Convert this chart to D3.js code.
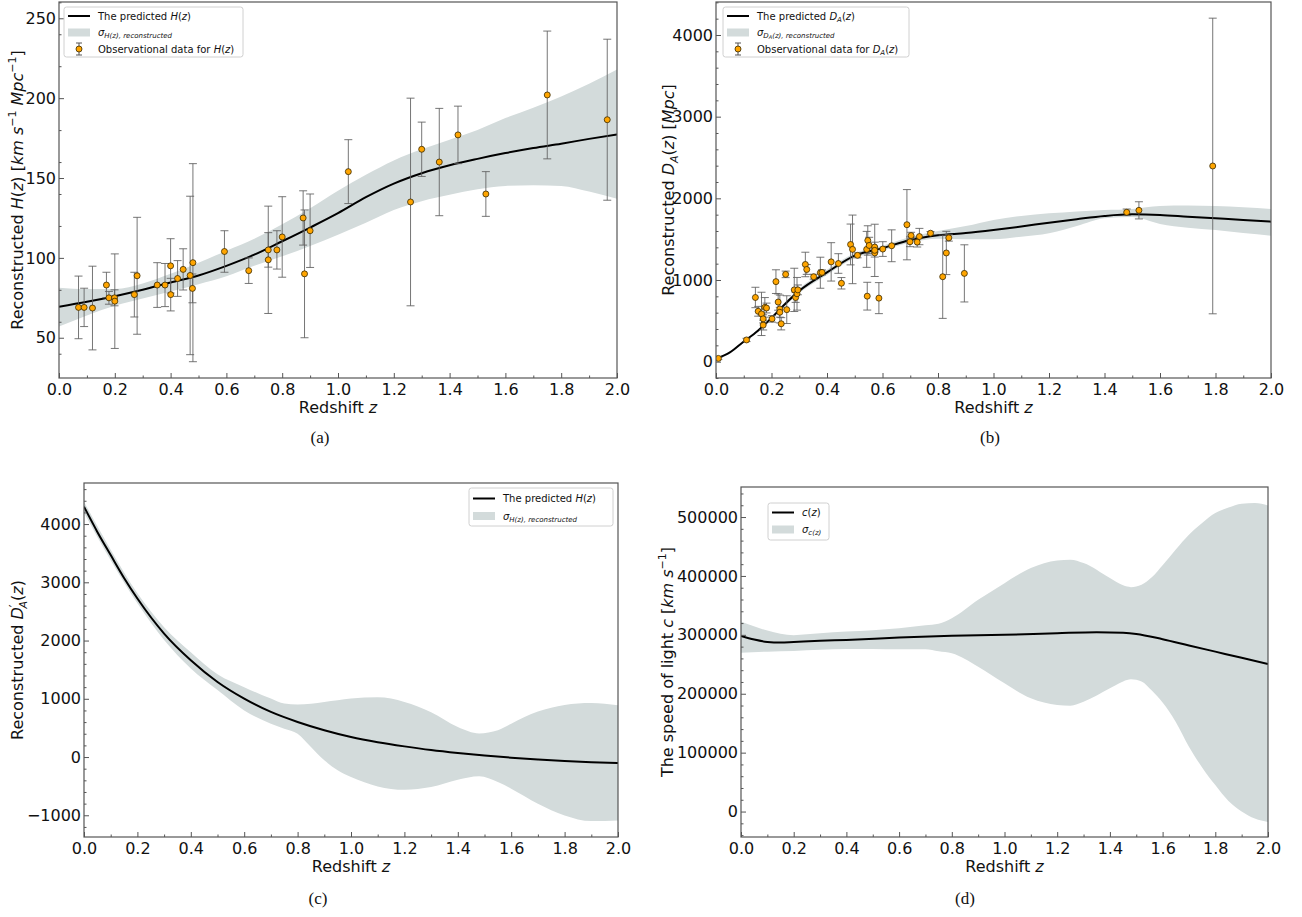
<!DOCTYPE html>
<html><head><meta charset="utf-8">
<script src="https://cdn.jsdelivr.net/npm/d3@7"></script>
<style>body{margin:0;background:#fff} svg text{font-family:"DejaVu Sans",sans-serif;fill:#111}</style>
</head><body>
<svg id="fig" width="1302" height="917"></svg>
<script>
// ---------- Panel (a): H(z) ----------
const aObsZ   = [0.07,0.09,0.12,0.17,0.179,0.199,0.2,0.27,0.28,0.352,0.38,0.4,0.4004,0.425,0.445,0.47,0.4783,0.48,0.593,0.68,0.75,0.75,0.781,0.8,0.875,0.88,0.9,1.037,1.26,1.3,1.363,1.43,1.53,1.75,1.965];
const aObsH   = [69,69,68.6,83,75,75,72.9,77,88.8,83,83,95,77,87.1,92.8,89,80.9,97,104,92,98.8,105,105,113.1,125,90,117,154,135,168,160,177,140,202,186.5];
const aObsErr = [19.6,12,26.2,8,4,5,29.6,14,36.6,14,13.5,17,10.2,11.2,12.9,49.6,9,62,13,8,33.6,10.8,12,25.2,17,40,23,20,65,17,33.6,18,14,40,50.4];
const aCurveZ = [0,0.1,0.2,0.3,0.4,0.5,0.6,0.7,0.8,0.9,1.0,1.1,1.2,1.3,1.4,1.5,1.6,1.7,1.8,1.9,2.0];
const aCurve  = [69.4,72.5,76,80,84.6,89,95,102,110.4,119,128,138,146.5,153,158,162,165.6,168.8,171.5,174.5,177.3];
const aBandZ  = [0,0.1,0.2,0.3,0.4,0.5,0.6,0.7,0.8,0.9,1.0,1.1,1.2,1.3,1.4,1.5,1.6,1.7,1.8,1.9,2.0];
const aBandHi = [81.3,80.5,80.5,84,90,97,104.5,112,121,131,142,152,161,168,174,180,187.5,194,201,209,218];
const aBandLo = [57,64,70,74.5,79,83.5,88.5,95,101,107.5,114.5,122,130,135.5,139.5,143,145,145.5,145,141.5,137];

// ---------- Panel (b): D_A(z) ----------
const bObsZ   = [0.0085,0.11,0.142,0.152,0.164,0.17,0.17,0.176,0.182,0.202,0.216,0.224,0.23,0.23,0.235,0.251,0.255,0.282,0.287,0.292,0.295,0.322,0.327,0.352,0.376,0.382,0.415,0.441,0.452,0.485,0.492,0.51,0.543,0.547,0.545,0.552,0.572,0.572,0.572,0.587,0.601,0.633,0.688,0.699,0.703,0.725,0.733,0.773,0.817,0.83,0.839,0.895,1.48,1.524,1.79];
const bObsDA  = [40,266,786,617,585,448,524,665,657,524,980,730,645,605,464,1069,637,879,786,831,879,1190,1129,1040,1089,1093,1222,1202,960,1435,1375,1302,1375,1484,802,1423,1403,1331,1363,778,1379,1419,1677,1468,1544,1464,1532,1573,1040,1331,1516,1081,1829,1853,2396];
const bObsErr = [15,20,125,60,265,60,50,120,60,40,145,100,170,60,75,40,170,265,60,200,60,150,60,30,190,30,235,120,70,250,420,30,220,180,170,100,60,50,320,190,90,195,430,60,40,60,100,20,510,265,40,350,40,105,1810];
const bCurveZ = [0,0.05,0.1,0.15,0.2,0.25,0.3,0.4,0.5,0.6,0.7,0.8,0.9,1.0,1.1,1.2,1.3,1.4,1.5,1.6,1.7,1.8,1.9,2.0];
const bCurve  = [35,113,246,375,536,710,867,1093,1298,1390,1490,1548,1575,1612,1655,1702,1745,1784,1804,1796,1775,1755,1735,1714];
const bBandHi = [45,123,256,390,556,735,895,1125,1330,1420,1525,1600,1660,1735,1785,1816,1840,1857,1870,1906,1912,1906,1890,1869];
const bBandLo = [25,103,236,360,516,685,840,1062,1268,1360,1458,1505,1500,1498,1530,1571,1660,1755,1770,1686,1640,1612,1575,1543];

// ---------- Panel (c): D'_A(z) ----------
const cCurveZ = [0,0.05,0.1,0.15,0.2,0.3,0.4,0.5,0.6,0.7,0.8,0.9,1.0,1.1,1.2,1.3,1.4,1.5,1.6,1.7,1.8,1.9,2.0];
const cCurve  = [4298,3865,3467,3075,2722,2120,1662,1289,1003,774,602,460,344,255,183,120,69,25,-11,-42,-69,-88,-103];
const cBandZ  = [0,0.1,0.2,0.3,0.4,0.5,0.6,0.7,0.75,0.8,0.85,0.9,0.95,1.0,1.1,1.2,1.3,1.4,1.48,1.55,1.6,1.7,1.8,1.9,2.0];
const cBandHi = [4384,3560,2810,2230,1800,1420,1200,1003,917,900,915,946,975,1003,1025,946,770,516,405,458,573,780,895,928,888];
const cBandLo = [4195,3380,2640,2010,1520,1150,800,573,487,401,172,-57,-229,-344,-504,-562,-516,-390,-332,-430,-544,-802,-1003,-1100,-1089];

// ---------- Panel (d): c(z) ----------
const dCurveZ = [0,0.05,0.1,0.15,0.2,0.3,0.4,0.6,0.8,1.0,1.2,1.35,1.45,1.5,1.6,1.7,1.8,1.9,2.0];
const dCurve  = [298300,292000,288000,287000,288000,290000,291400,295400,298300,300000,302800,304500,303500,301600,292600,282000,271500,261000,250600];
const dBandZ  = [0,0.1,0.2,0.3,0.4,0.5,0.6,0.7,0.75,0.8,0.9,1.0,1.1,1.2,1.25,1.3,1.4,1.45,1.48,1.52,1.56,1.6,1.65,1.7,1.75,1.8,1.85,1.9,1.95,2.0];
const dBandHi = [322600,307300,299500,302500,305500,308000,311200,316300,319000,328200,359400,387800,413300,426400,427500,421800,396300,384000,381000,385000,398000,418000,445000,470000,490000,506800,516000,522700,523800,519800];
const dBandLo = [269800,271500,272700,274500,276000,276000,275500,275500,272000,268700,246000,217700,192200,180900,179700,186500,209200,221000,224500,221000,205000,185000,152000,110000,75000,45000,18000,0,-12000,-17600];

// tick values
const xTicks = [0,0.2,0.4,0.6,0.8,1.0,1.2,1.4,1.6,1.8,2.0];
const aYTicks = [50,100,150,200,250];
const bYTicks = [0,1000,2000,3000,4000];
const cYTicks = [-1000,0,1000,2000,3000,4000];
const dYTicks = [0,100000,200000,300000,400000,500000];

const svg = d3.select("#fig");
const BAND = "#d3dbdb", SPINE = "#555";

function addText(sel, parts) {
  parts.forEach(p => {
    const t = sel.append("tspan").text(p.t);
    if (p.i) t.style("font-style","italic");
    if (p.s) t.attr("font-size", p.s);
    if (p.dy) t.attr("dy", p.dy);
    if (p.dx) t.attr("dx", p.dx);
  });
}

function panel(cfg) {
  const x = d3.scaleLinear().domain([0,2]).range([cfg.left,cfg.right]);
  const y = d3.scaleLinear().domain(cfg.yDomain).range([cfg.bottom,cfg.top]);
  const g = svg.append("g");
  const cid = "clip_" + cfg.id;
  svg.append("clipPath").attr("id",cid).append("rect")
    .attr("x",cfg.left).attr("y",cfg.top).attr("width",cfg.right-cfg.left).attr("height",cfg.bottom-cfg.top);
  const inner = g.append("g").attr("clip-path",`url(#${cid})`);

  const band = cfg.bandZ.map((z,i)=>({z, lo:cfg.bandLo[i], hi:cfg.bandHi[i]}));
  inner.append("path").datum(band)
    .attr("d", d3.area().x(d=>x(d.z)).y0(d=>y(d.lo)).y1(d=>y(d.hi)).curve(d3.curveMonotoneX))
    .attr("fill", BAND);

  const curve = cfg.curveZ.map((z,i)=>({z, v:cfg.curve[i]}));
  inner.append("path").datum(curve)
    .attr("d", d3.line().x(d=>x(d.z)).y(d=>y(d.v)).curve(d3.curveMonotoneX))
    .attr("fill","none").attr("stroke","#000").attr("stroke-width",2);

  if (cfg.obsZ) {
    const obs = cfg.obsZ.map((z,i)=>({z, v:cfg.obsV[i], e:cfg.obsE[i]}));
    const eb = inner.append("g").attr("stroke","#5e5e5e").attr("stroke-width",1).attr("stroke-opacity",0.85);
    eb.selectAll("line.v").data(obs).join("line").attr("class","v")
      .attr("x1",d=>x(d.z)).attr("x2",d=>x(d.z)).attr("y1",d=>y(d.v-d.e)).attr("y2",d=>y(d.v+d.e));
    eb.selectAll("line.t").data(obs).join("line").attr("class","t")
      .attr("x1",d=>x(d.z)-4).attr("x2",d=>x(d.z)+4).attr("y1",d=>y(d.v+d.e)).attr("y2",d=>y(d.v+d.e));
    eb.selectAll("line.b").data(obs).join("line").attr("class","b")
      .attr("x1",d=>x(d.z)-4).attr("x2",d=>x(d.z)+4).attr("y1",d=>y(d.v-d.e)).attr("y2",d=>y(d.v-d.e));
    inner.selectAll("circle").data(obs).join("circle")
      .attr("cx",d=>x(d.z)).attr("cy",d=>y(d.v)).attr("r",3)
      .attr("fill","#ffa500").attr("stroke","#3a2a00").attr("stroke-width",0.8);
  }

  // axes
  const fmtX = d3.format(".1f"), fmtY = d3.format("d");
  g.append("g").attr("transform",`translate(0,${cfg.bottom})`)
    .call(d3.axisBottom(x).tickValues(xTicks).tickFormat(fmtX).tickSize(-5).tickPadding(6));
  const xMinor = d3.range(1,20,2).map(k=>k/10);
  g.append("g").attr("transform",`translate(0,${cfg.bottom})`)
    .call(d3.axisBottom(x).tickValues(xMinor).tickFormat("").tickSize(-2.5));
  g.append("g").attr("transform",`translate(${cfg.left},0)`)
    .call(d3.axisLeft(y).tickValues(cfg.yTicks).tickFormat(fmtY).tickSize(-5).tickPadding(3));
  const ym = [];
  const [y0,y1] = cfg.yDomain;
  for (let v = Math.ceil(y0/cfg.minor)*cfg.minor; v <= y1; v += cfg.minor) if (!cfg.yTicks.includes(v)) ym.push(v);
  g.append("g").attr("transform",`translate(${cfg.left},0)`)
    .call(d3.axisLeft(y).tickValues(ym).tickFormat("").tickSize(-2.5));
  g.selectAll(".domain").remove();
  g.selectAll(".tick line").attr("stroke",SPINE);
  g.selectAll(".tick text").attr("font-size",16).attr("fill","#111")
    .style("font-family","'DejaVu Sans',sans-serif");
  g.append("rect").attr("x",cfg.left).attr("y",cfg.top)
    .attr("width",cfg.right-cfg.left).attr("height",cfg.bottom-cfg.top)
    .attr("fill","none").attr("stroke",SPINE).attr("stroke-width",1.2);

  // axis labels
  const xl = g.append("text").attr("x",(cfg.left+cfg.right)/2).attr("y",cfg.bottom+35)
    .attr("text-anchor","middle").attr("font-size",16);
  addText(xl,[{t:"Redshift "},{t:"z",i:1}]);
  const yl = g.append("text").attr("transform",`translate(${cfg.ylx},${(cfg.top+cfg.bottom)/2}) rotate(-90)`)
    .attr("text-anchor","middle").attr("font-size",16);
  addText(yl, cfg.ylabel);
  g.append("text").attr("x",cfg.capX).attr("y",cfg.capY).attr("text-anchor","middle")
    .attr("font-size",17).style("font-family","'Liberation Serif','Times New Roman',serif").text(cfg.caption);

  // legend
  const L = cfg.legend;
  const lg = g.append("g");
  lg.append("rect").attr("x",L.x).attr("y",L.y).attr("width",L.w).attr("height",L.h)
    .attr("rx",2.5).attr("fill","#fff").attr("fill-opacity",0.85).attr("stroke","#d0d0d0");
  L.items.forEach((it,k)=>{
    const cy = L.y + L.first + k*L.step;
    const hx = L.x + 4;
    if (it.type==="line") lg.append("line").attr("x1",hx).attr("x2",hx+22).attr("y1",cy).attr("y2",cy).attr("stroke","#000").attr("stroke-width",2);
    if (it.type==="band") lg.append("rect").attr("x",hx).attr("y",cy-4).attr("width",22).attr("height",8).attr("fill",BAND);
    if (it.type==="err") {
      const mx = hx+11;
      lg.append("line").attr("x1",mx).attr("x2",mx).attr("y1",cy-6).attr("y2",cy+6).attr("stroke","#555");
      lg.append("line").attr("x1",mx-3).attr("x2",mx+3).attr("y1",cy-6).attr("y2",cy-6).attr("stroke","#555");
      lg.append("line").attr("x1",mx-3).attr("x2",mx+3).attr("y1",cy+6).attr("y2",cy+6).attr("stroke","#555");
      lg.append("circle").attr("cx",mx).attr("cy",cy).attr("r",3).attr("fill","#ffa500").attr("stroke","#3a2a00").attr("stroke-width",0.8);
    }
    const t = lg.append("text").attr("x",hx+30).attr("y",cy+3.5).attr("font-size",10);
    addText(t, it.label);
  });
}

const sub = (s) => [{t:s, i:1, s:7, dy:2}];

panel({id:"a", left:59, right:617, top:2, bottom:378, yDomain:[24.8,260.2], yTicks:aYTicks, minor:20,
  curveZ:aCurveZ, curve:aCurve, bandZ:aBandZ, bandHi:aBandHi, bandLo:aBandLo,
  obsZ:aObsZ, obsV:aObsH, obsE:aObsErr, ylx:23, capX:320, capY:443, caption:"(a)",
  ylabel:[{t:"Reconstructed "},{t:"H",i:1},{t:"("},{t:"z",i:1},{t:") ["},{t:"km s",i:1},{t:"−1",s:11,dy:-7},{t:" Mpc",i:1,dy:7},{t:"−1",s:11,dy:-7},{t:"]",dy:7}],
  legend:{x:64, y:7, w:179, h:50, first:9, step:16.5, items:[
    {type:"line", label:[{t:"The predicted "},{t:"H",i:1},{t:"("},{t:"z",i:1},{t:")"}]},
    {type:"band", label:[{t:"σ",i:1}].concat(sub("H(z), reconstructed"))},
    {type:"err", label:[{t:"Observational data for "},{t:"H",i:1},{t:"("},{t:"z",i:1},{t:")"}]}]}
});

panel({id:"b", left:716, right:1271, top:2, bottom:378, yDomain:[-200,4404], yTicks:bYTicks, minor:200,
  curveZ:bCurveZ, curve:bCurve, bandZ:bCurveZ, bandHi:bBandHi, bandLo:bBandLo,
  obsZ:bObsZ, obsV:bObsDA, obsE:bObsErr, ylx:674, capX:990, capY:443, caption:"(b)",
  ylabel:[{t:"Reconstructed "},{t:"D",i:1},{t:"A",i:1,s:11,dy:4},{t:"(",dy:-4},{t:"z",i:1},{t:") ["},{t:"Mpc",i:1},{t:"]"}],
  legend:{x:723, y:7, w:186, h:50, first:9, step:16.5, items:[
    {type:"line", label:[{t:"The predicted "},{t:"D",i:1},{t:"A",i:1,s:7,dy:2},{t:"(",dy:-2},{t:"z",i:1},{t:")"}]},
    {type:"band", label:[{t:"σ",i:1},{t:"D",i:1,s:7,dy:2},{t:"A",i:1,s:5,dy:1},{t:"(z), reconstructed",i:1,s:7,dy:-1}]},
    {type:"err", label:[{t:"Observational data for "},{t:"D",i:1},{t:"A",i:1,s:7,dy:2},{t:"(",dy:-2},{t:"z",i:1},{t:")"}]}]}
});

panel({id:"c", left:84, right:618, top:483, bottom:837, yDomain:[-1373,4705], yTicks:cYTicks, minor:200,
  curveZ:cCurveZ, curve:cCurve, bandZ:cBandZ, bandHi:cBandHi, bandLo:cBandLo,
  ylx:23, capX:318, capY:904, caption:"(c)",
  ylabel:[{t:"Reconstructed "},{t:"D",i:1},{t:"′",s:12,dy:-5},{t:"A",i:1,s:11,dx:-4,dy:9},{t:"(",dy:-4},{t:"z",i:1},{t:")"}],
  legend:{x:469, y:488, w:144, h:38, first:10.5, step:17.5, items:[
    {type:"line", label:[{t:"The predicted "},{t:"H",i:1},{t:"("},{t:"z",i:1},{t:")"}]},
    {type:"band", label:[{t:"σ",i:1}].concat(sub("H(z), reconstructed"))}]}
});

panel({id:"d", left:741, right:1268, top:487, bottom:837, yDomain:[-43200,551000], yTicks:dYTicks, minor:20000,
  curveZ:dCurveZ, curve:dCurve, bandZ:dBandZ, bandHi:dBandHi, bandLo:dBandLo,
  ylx:673, capX:965, capY:904, caption:"(d)",
  ylabel:[{t:"The speed of light "},{t:"c",i:1},{t:" ["},{t:"km s",i:1},{t:"−1",s:11,dy:-7},{t:"]",dy:7}],
  legend:{x:768, y:503, w:61, h:37, first:9.5, step:17, items:[
    {type:"line", label:[{t:"c",i:1},{t:"("},{t:"z",i:1},{t:")"}]},
    {type:"band", label:[{t:"σ",i:1}].concat(sub("c(z)"))}]}
});
</script>
</body></html>
